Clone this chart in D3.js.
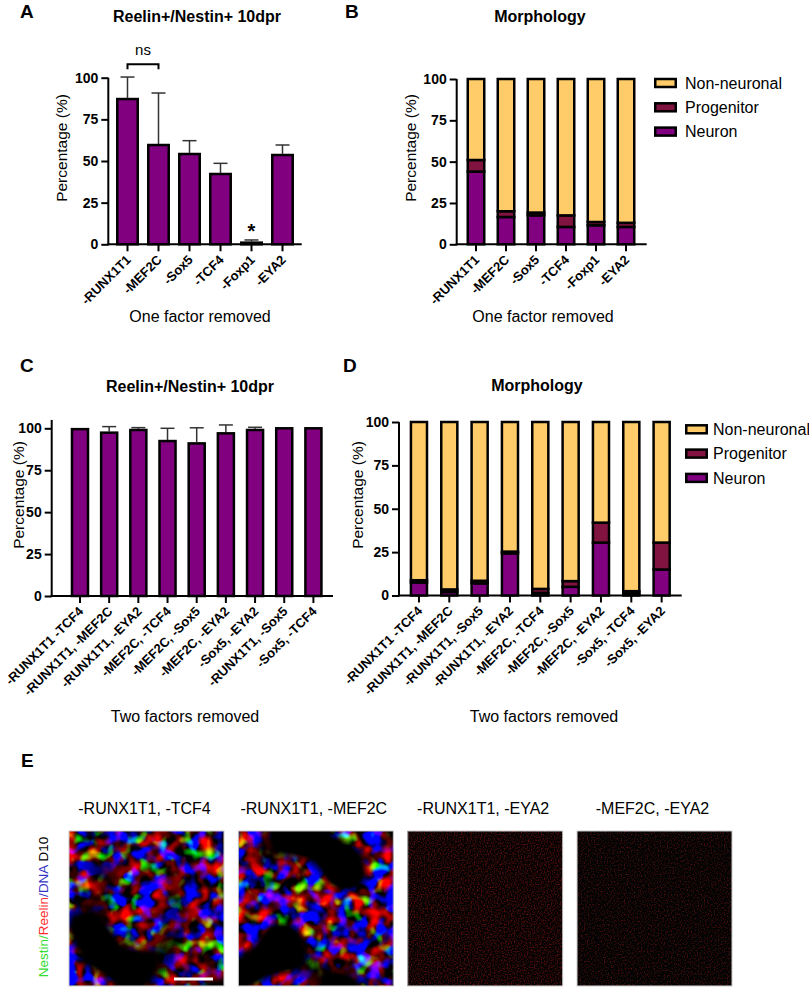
<!DOCTYPE html>
<html>
<head>
<meta charset="utf-8">
<script src="https://cdn.jsdelivr.net/npm/d3@7"></script>
<style>
body { margin: 0; background: #fff; }
svg { display: block; font-family: "Liberation Sans", Arial, sans-serif; }
</style>
</head>
<body>
<svg id="fig" width="809" height="989"></svg>
<script>
// ---------- data ----------
const oneFactor = ["-RUNX1T1", "-MEF2C", "-Sox5", "-TCF4", "-Foxp1", "-EYA2"];
const reelinOneMean = [87.2, 59.6, 54.2, 42.2, 1.0, 53.6];
const reelinOneErr = [13.2, 31.2, 8.0, 6.4, 1.6, 6.0];

const morphOneNeuron = [44, 16.5, 17.5, 10.5, 11.5, 10.5];
const morphOneProg = [7, 3.5, 1.7, 7, 2, 2.5];
const morphOneNon = [49, 80, 80.8, 82.5, 86.5, 87];

const twoFactorC = ["-RUNX1T1 -TCF4", "-RUNX1T1, -MEF2C", "-RUNX1T1, -EYA2", "-MEF2C, -TCF4",
  "-MEF2C, -Sox5", "-MEF2C, -EYA2", "-Sox5, -EYA2", "-RUNX1T1, -Sox5", "-Sox5, -TCF4"];
const reelinTwoMean = [99.5, 97.4, 99.0, 92.4, 91.0, 97.0, 99.0, 100, 100];
const reelinTwoErr = [0, 3.6, 1.4, 7.6, 9.3, 5.0, 1.6, 0, 0];

const twoFactorD = ["-RUNX1T1 -TCF4", "-RUNX1T1, -MEF2C", "-RUNX1T1, -Sox5", "-RUNX1T1, -EYA2",
  "-MEF2C, -TCF4", "-MEF2C, -Sox5", "-MEF2C, -EYA2", "-Sox5, -TCF4", "-Sox5, -EYA2"];
const morphTwoNeuron = [7.5, 2, 7, 24.3, 1.5, 5, 30.5, 1, 15];
const morphTwoProg = [1.3, 1.5, 1.5, 1, 2.3, 3.3, 11.5, 1.5, 15.5];
const morphTwoNon = [91.2, 96.5, 91.5, 74.7, 96.2, 91.7, 58, 97.5, 69.5];

const yTicks = [0, 25, 50, 75, 100];
const stackKeys = ["Neuron", "Progenitor", "Non-neuronal"];
const legendOrder = ["Non-neuronal", "Progenitor", "Neuron"];
const colors = { "Neuron": "#800080", "Progenitor": "#80133f", "Non-neuronal": "#ffcc69" };

const compA = { from: "-RUNX1T1", to: "-MEF2C", level: 108, label: "ns" };
const starsA = [{ cat: "-Foxp1", label: "*" }];

const imageTitles = ["-RUNX1T1, -TCF4", "-RUNX1T1, -MEF2C", "-RUNX1T1, -EYA2", "-MEF2C, -EYA2"];

// ---------- helpers ----------
const svg = d3.select("#fig");

function frame(p) {
  const g = svg.append("g");
  const y = d3.scaleLinear([0, 100], [p.yBottom, p.yTop]);
  const x = d3.scaleBand().domain(p.cats).range(p.band)
    .paddingInner(p.pad).paddingOuter(p.pad / 2);

  // y axis
  const ya = g.append("g").attr("transform", `translate(${p.x0},0)`)
    .call(d3.axisLeft(y).tickValues(yTicks).tickSize(7).tickSizeOuter(0).tickPadding(3));
  ya.select(".domain").remove();
  ya.selectAll("line").attr("stroke", "#000").attr("stroke-width", 2);
  ya.selectAll("text").attr("font-size", 14).attr("font-weight", "bold").attr("fill", "#000")
    .attr("font-family", "Liberation Sans, Arial, sans-serif");
  g.append("line").attr("x1", p.x0).attr("x2", p.x0)
    .attr("y1", y(0) + 1).attr("y2", y(p.axisMax || 100))
    .attr("stroke", "#000").attr("stroke-width", 2);

  // x axis
  const xa = g.append("g").attr("transform", `translate(0,${p.yBottom})`)
    .call(d3.axisBottom(x).tickSize(7).tickSizeOuter(0));
  xa.select(".domain").remove();
  xa.selectAll("line").attr("stroke", "#000").attr("stroke-width", 2);
  xa.selectAll("text")
    .attr("x", 0).attr("y", 0).attr("dy", "0.35em")
    .attr("text-anchor", "end")
    .attr("transform", "translate(1,13) rotate(-45)")
    .attr("font-size", 13).attr("font-weight", "bold").attr("fill", "#000")
    .attr("font-family", "Liberation Sans, Arial, sans-serif");
  g.append("line").attr("x1", p.x0 - 1).attr("x2", p.xEnd)
    .attr("y1", p.yBottom).attr("y2", p.yBottom)
    .attr("stroke", "#000").attr("stroke-width", 2);

  // labels
  g.append("text").attr("x", p.letter[0]).attr("y", p.letter[1])
    .attr("font-size", 19).attr("font-weight", "bold").text(p.letterText);
  g.append("text").attr("x", p.title[0]).attr("y", p.title[1]).attr("text-anchor", "middle")
    .attr("font-size", 16).attr("font-weight", "bold").text(p.titleText);
  g.append("text").attr("text-anchor", "middle").attr("dy", "0.35em")
    .attr("transform", `translate(${p.ylab[0]},${p.ylab[1]}) rotate(-90)`)
    .attr("font-size", 15.5).text("Percentage (%)");
  g.append("text").attr("x", p.xlab[0]).attr("y", p.xlab[1]).attr("text-anchor", "middle")
    .attr("font-size", 16).text(p.xlabText);
  return { g, x, y };
}

function barPanel(p, means, errs) {
  const { g, x, y } = frame(p);
  const rows = p.cats.map((c, i) => ({ cat: c, v: means[i], e: errs[i] }));

  g.selectAll(".bar").data(rows).join("rect")
    .attr("class", "bar")
    .attr("x", d => x(d.cat)).attr("width", x.bandwidth())
    .attr("y", d => y(d.v)).attr("height", d => y(0) - y(d.v))
    .attr("fill", colors.Neuron).attr("stroke", "#000").attr("stroke-width", 2.5);

  const eb = g.selectAll(".err").data(rows.filter(d => d.e > 0)).join("g").attr("class", "err")
    .attr("stroke", "#333").attr("stroke-width", 1.5);
  eb.append("line")
    .attr("x1", d => x(d.cat) + x.bandwidth() / 2).attr("x2", d => x(d.cat) + x.bandwidth() / 2)
    .attr("y1", d => y(d.v) - 1).attr("y2", d => y(d.v + d.e));
  eb.append("line")
    .attr("x1", d => x(d.cat) + x.bandwidth() / 2 - 7).attr("x2", d => x(d.cat) + x.bandwidth() / 2 + 7)
    .attr("y1", d => y(d.v + d.e)).attr("y2", d => y(d.v + d.e));
  return { g, x, y, rows };
}

function stackPanel(p, neuron, prog, non) {
  const { g, x, y } = frame(p);
  const rows = p.cats.map((c, i) => ({ cat: c, "Neuron": neuron[i], "Progenitor": prog[i], "Non-neuronal": non[i] }));
  const series = d3.stack().keys(stackKeys)(rows);

  g.selectAll(".layer").data(series).join("g").attr("class", "layer")
    .attr("fill", s => colors[s.key])
    .selectAll("rect").data(s => s).join("rect")
    .attr("x", d => x(d.data.cat)).attr("width", x.bandwidth())
    .attr("y", d => y(d[1])).attr("height", d => y(d[0]) - y(d[1]))
    .attr("stroke", "#000").attr("stroke-width", 2.5);

  const lg = g.append("g").attr("transform", `translate(${p.legend[0]},${p.legend[1]})`);
  const li = lg.selectAll("g").data(legendOrder).join("g")
    .attr("transform", (d, i) => `translate(0,${i * 24.3})`);
  li.append("rect").attr("x", 1.25).attr("y", -4).attr("width", 20.5).attr("height", 8)
    .attr("fill", d => colors[d]).attr("stroke", "#000").attr("stroke-width", 2.5);
  li.append("text").attr("x", p.legendText).attr("dy", "0.35em").attr("font-size", 16).text(d => d);
}

// ---------- panel A ----------
const pA = barPanel({
  cats: oneFactor, x0: 108.3, xEnd: 301.7, yBottom: 244.3, yTop: 77.7,
  band: [112, 298], pad: 0.34,
  letter: [20, 18], letterText: "A", title: [197, 22], titleText: "Reelin+/Nestin+ 10dpr",
  ylab: [62, 148], xlab: [200, 322], xlabText: "One factor removed"
}, reelinOneMean, reelinOneErr);

{
  const { g, x, y, rows } = pA;
  const cx = c => x(c) + x.bandwidth() / 2;
  const x1 = cx(compA.from), x2 = cx(compA.to);
  g.append("path")
    .attr("d", d3.line()([[x1, y(compA.level - 3)], [x1, y(compA.level)], [x2, y(compA.level)], [x2, y(compA.level - 3)]]))
    .attr("fill", "none").attr("stroke", "#000").attr("stroke-width", 2);
  g.append("text").attr("x", (x1 + x2) / 2).attr("y", y(compA.level) - 9)
    .attr("text-anchor", "middle").attr("font-size", 15).text(compA.label);
  starsA.forEach(s => {
    const r = rows.find(d => d.cat === s.cat);
    g.append("text").attr("x", cx(s.cat)).attr("y", y(r.v + r.e) - 2)
      .attr("text-anchor", "middle").attr("font-size", 20).attr("font-weight", "bold").text(s.label);
  });
}

// ---------- panel B ----------
stackPanel({
  cats: oneFactor, x0: 456.7, xEnd: 646.7, yBottom: 244.3, yTop: 79,
  band: [461, 641], pad: 0.45,
  letter: [345, 18], letterText: "B", title: [540, 22], titleText: "Morphology",
  ylab: [411, 148], xlab: [543, 322], xlabText: "One factor removed",
  legend: [654, 83], legendText: 31
}, morphOneNeuron, morphOneProg, morphOneNon);

// ---------- panel C ----------
barPanel({
  cats: twoFactorC, x0: 51.7, xEnd: 333, yBottom: 596, yTop: 428.3, axisMax: 105,
  band: [65.4, 328], pad: 0.45,
  letter: [20, 372], letterText: "C", title: [190, 392], titleText: "Reelin+/Nestin+ 10dpr",
  ylab: [18.5, 495], xlab: [185, 722], xlabText: "Two factors removed"
}, reelinTwoMean, reelinTwoErr);

// ---------- panel D ----------
stackPanel({
  cats: twoFactorD, x0: 399, xEnd: 681.7, yBottom: 595.5, yTop: 422,
  band: [403.8, 676.8], pad: 0.47,
  letter: [343, 372], letterText: "D", title: [537, 391], titleText: "Morphology",
  ylab: [358, 495], xlab: [544, 722], xlabText: "Two factors removed",
  legend: [685, 429.3], legendText: 28
}, morphTwoNeuron, morphTwoProg, morphTwoNon);

// ---------- panel E (micrographs, approximated with procedural texture) ----------
const defs = svg.append("defs");
const texture = [
  { kind: "dense", seed: 2, mask: 7, cut: 4.4 },
  { kind: "dense", seed: 5, mask: 11, cut: 4.1 },
  { kind: "sparse", seed: 3, off: -0.42 },
  { kind: "sparse", seed: 9, off: -0.47 }
];
texture.forEach((t, i) => {
  const f = defs.append("filter").attr("id", "tex" + i)
    .attr("x", 0).attr("y", 0).attr("width", 1).attr("height", 1)
    .attr("color-interpolation-filters", "sRGB");
  if (t.kind === "dense") {
    f.append("feTurbulence").attr("type", "fractalNoise").attr("baseFrequency", 0.065)
      .attr("numOctaves", 2).attr("seed", t.seed).attr("result", "n");
    f.append("feColorMatrix").attr("in", "n").attr("type", "matrix")
      .attr("values", "2.4 0 -1.6 0 -0.15  0 4 -1 0 -1.75  0 0 6 0 -2.85  0 0 0 0 1").attr("result", "c");
    f.append("feTurbulence").attr("type", "fractalNoise").attr("baseFrequency", 0.016)
      .attr("numOctaves", 1).attr("seed", t.mask).attr("result", "m");
    f.append("feColorMatrix").attr("in", "m").attr("type", "matrix")
      .attr("values", `0 0 0 0 0  0 0 0 0 0  0 0 0 0 0  11 0 0 0 -${t.cut}`).attr("result", "mask");
    f.append("feComposite").attr("in", "c").attr("in2", "mask").attr("operator", "in");
  } else {
    f.append("feTurbulence").attr("type", "fractalNoise").attr("baseFrequency", 0.7)
      .attr("numOctaves", 1).attr("seed", t.seed).attr("result", "n");
    f.append("feColorMatrix").attr("in", "n").attr("type", "matrix")
      .attr("values", `1.0 0 0 0 ${t.off}  0.12 0 0 0 -0.04  0.1 0 0 0 -0.03  0 0 0 0 1`);
  }
});

const ix = d3.scaleBand().domain(imageTitles).range([69, 732]).paddingInner(0.085);
const imgTop = 831;
const ge = svg.append("g");
ge.append("text").attr("x", 21).attr("y", 767).attr("font-size", 19).attr("font-weight", "bold").text("E");

const cells = ge.selectAll(".img").data(imageTitles).join("g").attr("class", "img");
cells.append("rect").attr("x", d => ix(d)).attr("y", imgTop)
  .attr("width", ix.bandwidth()).attr("height", ix.bandwidth()).attr("fill", "#000");
cells.append("rect").attr("x", d => ix(d)).attr("y", imgTop)
  .attr("width", ix.bandwidth()).attr("height", ix.bandwidth()).attr("fill", "#000")
  .attr("filter", (d, i) => `url(#tex${i})`);
cells.append("rect").attr("x", d => ix(d)).attr("y", imgTop)
  .attr("width", ix.bandwidth()).attr("height", ix.bandwidth())
  .attr("fill", "none").attr("stroke", "#c8c8c8").attr("stroke-width", 1);
cells.append("text").attr("x", d => ix(d) + ix.bandwidth() / 2 - 2).attr("y", 814)
  .attr("text-anchor", "middle").attr("font-size", 16).text(d => d);

// scale bar
ge.append("line").attr("x1", ix(imageTitles[0]) + 105).attr("x2", ix(imageTitles[0]) + 144)
  .attr("y1", 979).attr("y2", 979).attr("stroke", "#fff").attr("stroke-width", 3);

// channel label
const ch = ge.append("text").attr("text-anchor", "middle").attr("dy", "0.35em")
  .attr("transform", "translate(43,907) rotate(-90)").attr("font-size", 13.5);
ch.append("tspan").attr("fill", "#2fdc2f").text("Nestin/");
ch.append("tspan").attr("fill", "#ff2a2a").text("Reelin");
ch.append("tspan").attr("fill", "#3535c8").text("/DNA");
ch.append("tspan").attr("fill", "#000").text(" D10");
</script>
</body>
</html>
